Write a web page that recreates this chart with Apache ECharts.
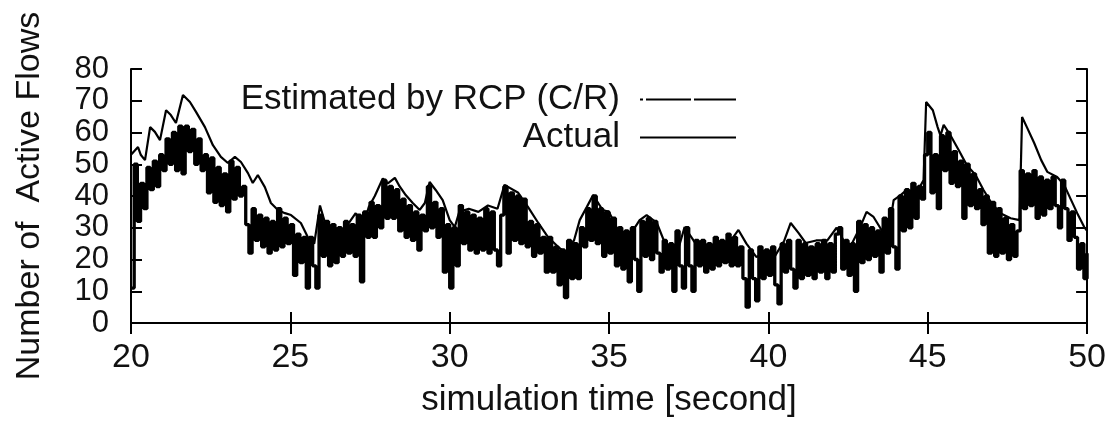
<!DOCTYPE html>
<html>
<head>
<meta charset="utf-8">
<script src="https://cdn.jsdelivr.net/npm/echarts@6/dist/echarts.min.js"></script>
<style>
html,body{margin:0;padding:0;background:#fff;}
#chart{width:1109px;height:430px;}
</style>
</head>
<body>
<div id="chart"></div>
<script>
// ---- data ----
const xTicks = [20, 25, 30, 35, 40, 45, 50];
const yTicks = [0, 10, 20, 30, 40, 50, 60, 70, 80];
const seriesNames = ['Estimated by RCP (C/R)', 'Actual'];

// Estimated by RCP (C/R): time [s]
const estTime = [20.0, 20.06, 20.22, 20.31, 20.44, 20.6, 20.75, 20.91, 21.1, 21.25,
  21.41, 21.63, 21.85, 22.04, 22.32, 22.57, 22.82, 23.04, 23.26, 23.45,
  23.67, 23.82, 23.98, 24.2, 24.39, 24.61, 24.83, 25.02, 25.33, 25.55,
  25.75, 25.93, 26.09, 26.2, 26.4, 26.6, 26.8, 27.05, 27.27, 27.46,
  27.65, 27.9, 28.06, 28.28, 28.43, 28.62, 28.84, 29.06, 29.22, 29.37,
  29.56, 29.78, 30.0, 30.16, 30.3, 30.6, 30.9, 31.2, 31.5, 31.72,
  32.15, 32.46, 32.78, 33.09, 33.4, 33.65, 33.9, 34.08, 34.3, 34.5,
  34.8, 35.0, 35.23, 35.55, 35.96, 36.18, 36.5, 36.8, 37.1, 37.37,
  37.65, 37.96, 38.27, 38.68, 39.06, 39.31, 39.62, 39.93, 40.2, 40.5,
  40.7, 40.95, 41.17, 41.5, 41.85, 42.14, 42.36, 42.6, 42.88, 43.08,
  43.3, 43.55, 43.77, 43.93, 44.15, 44.34, 44.65, 44.87, 44.95, 45.16,
  45.31, 45.4, 45.5, 45.72, 45.97, 46.22, 46.5, 46.75, 47.0, 47.28,
  47.6, 47.88, 47.96, 48.11, 48.34, 48.56, 48.75, 49.06, 49.28, 49.5,
  49.69, 49.91, 50.0];
// Estimated by RCP (C/R): number of flows
const estValue = [53, 53, 55.4, 52.9, 51.3, 61.7, 60.2, 57.6, 67, 65.5,
  63, 71.8, 69.6, 66.5, 61.7, 56, 52.3, 50.4, 52.3, 50.7,
  47.2, 44.1, 46.6, 42.8, 37.8, 35.6, 34.6, 34, 31.5, 27,
  25, 37, 31.5, 27, 30, 29, 31, 34.6, 30, 36.5,
  40, 45.5, 44, 45.7, 43, 40.3, 37.8, 35.6, 37.8, 44.4,
  41.9, 38.7, 32.4, 30.2, 35, 36, 35, 37, 36, 43.5,
  41, 36.5, 31.5, 27, 24, 22, 26, 32.4, 36.5, 40.3,
  35.6, 35, 30.2, 26, 32.4, 34, 31.5, 24, 20.8, 30.2,
  26, 22, 24, 24, 29.3, 25, 20.8, 22, 21, 26,
  31.5, 28.3, 25.2, 26, 26, 30, 26, 24.6, 30.2, 35,
  33.4, 29.3, 28.3, 38.7, 40.3, 41.9, 41, 45, 69.6, 67,
  61.7, 59, 62.4, 59, 54.5, 49.8, 46.6, 41.9, 37.8, 34.6,
  33, 32.4, 64.9, 61.7, 56.7, 51.3, 47.6, 46, 43.5, 38.7,
  34.6, 30.2, 29];

// Actual: sampled every 0.1 s from 20.0 s
const actualStart = 20;
const actualStep = 0.1;
const actualValue = [
  11, 50, 32, 44, 36, 49, 42, 51, 43, 53,
  48, 58, 50, 60, 48, 62, 47, 62, 54, 61,
  50, 58, 48, 53, 41, 52, 38, 49, 37, 47,
  35, 51, 39, 49, 40, 43, 31, 22, 36, 26,
  34, 24, 33, 22, 32, 23, 36, 24, 33, 25,
  31, 15, 28, 19, 27, 11, 27, 18, 11, 34,
  21, 32, 18, 31, 19, 30, 21, 32, 22, 31,
  21, 34, 13, 35, 27, 38, 27, 37, 30, 45,
  33, 43, 33, 42, 29, 39, 27, 37, 26, 35,
  23, 34, 29, 43, 30, 38, 27, 36, 16, 31,
  11, 30, 18, 37, 25, 35, 23, 34, 22, 33,
  23, 36, 22, 35, 23, 18, 34, 43, 22, 41,
  26, 40, 25, 39, 24, 32, 21, 31, 22, 27,
  16, 27, 16, 24, 12, 23, 8, 26, 14, 25,
  14, 30, 24, 36, 26, 40, 25, 36, 21, 35,
  22, 33, 18, 30, 17, 29, 13, 30, 20, 10,
  32, 21, 33, 20, 32, 22, 16, 26, 17, 25,
  10, 29, 18, 11, 30, 18, 10, 26, 18, 26,
  16, 25, 17, 27, 18, 26, 19, 28, 18, 27,
  18, 24, 14, 5, 23, 14, 7, 24, 14, 23,
  15, 24, 12, 6, 25, 16, 26, 17, 11, 26,
  14, 25, 15, 24, 14, 25, 16, 26, 14, 25,
  16, 28, 30, 17, 26, 15, 25, 10, 32, 19,
  31, 20, 30, 21, 29, 16, 33, 22, 36, 24,
  17, 40, 29, 42, 30, 44, 33, 43, 39, 53,
  60, 41, 53, 36, 59, 48, 60, 44, 54, 43,
  51, 33, 50, 37, 47, 36, 42, 31, 40, 22,
  38, 21, 36, 22, 33, 20, 31, 21, 29, 48,
  36, 47, 37, 48, 33, 46, 34, 45, 36, 46,
  37, 30, 45, 36, 26, 35, 27, 17, 25, 14,
  22];

// ---- build chart ----
const estData = estTime.map((t, i) => [t, estValue[i]]);
const actualData = actualValue.map((v, i) => [+(actualStart + i * actualStep).toFixed(2), v]);

const FONT = 'Liberation Sans';
const INK = '#111';
const frame = { show: true, lineStyle: { color: '#000', width: 2 } };
const tick = { show: true, inside: true, length: 11, lineStyle: { color: '#000', width: 2 } };

const xBase = { type: 'value', min: xTicks[0], max: xTicks[xTicks.length - 1], interval: xTicks[1] - xTicks[0],
  axisLine: frame, axisTick: tick, splitLine: { show: false } };
const yBase = { type: 'value', min: yTicks[0], max: yTicks[yTicks.length - 1], interval: yTicks[1] - yTicks[0],
  axisLine: frame, axisTick: tick, splitLine: { show: false } };

const hiddenSymbol = { opacity: 0, color: 'rgba(0,0,0,0)', borderWidth: 0 };

const chart = echarts.init(document.getElementById('chart'), null, { renderer: 'canvas' });
chart.setOption({
  animation: false,
  backgroundColor: '#fff',
  textStyle: { fontFamily: FONT, color: INK },
  grid: { left: 131, right: 21, top: 69, bottom: 107, containLabel: false },
  xAxis: [
    Object.assign({}, xBase, {
      position: 'bottom',
      axisLabel: { show: true, fontSize: 34, color: INK, fontFamily: FONT, margin: 18,
        showMinLabel: true, showMaxLabel: true, hideOverlap: false },
      name: 'simulation time [second]', nameLocation: 'middle', nameGap: 60,
      nameTextStyle: { fontSize: 35, color: INK, fontFamily: FONT }
    }),
    Object.assign({}, xBase, { position: 'top', axisLabel: { show: false } })
  ],
  yAxis: [
    Object.assign({}, yBase, {
      position: 'left',
      axisLabel: { show: true, fontSize: 31, lineHeight: 28, color: INK, fontFamily: FONT, margin: 22,
        showMinLabel: true, showMaxLabel: true, hideOverlap: false },
      name: 'Number of  Active Flows', nameLocation: 'middle', nameGap: 84, nameRotate: 90,
      nameTextStyle: { fontSize: 34, color: INK, fontFamily: FONT }
    }),
    Object.assign({}, yBase, { position: 'right', axisLabel: { show: false } })
  ],
  legend: [
    {
      data: [{ name: seriesNames[0], itemStyle: hiddenSymbol,
        lineStyle: { type: [45, 3], dashOffset: 42, width: 2, color: '#000' } }],
      right: 367, top: 77, orient: 'vertical', align: 'right',
      itemWidth: 96, itemHeight: 10, selectedMode: false,
      textStyle: { fontSize: 35, color: INK, fontFamily: FONT, padding: [0, 15, 0, 0] }
    },
    {
      data: [{ name: seriesNames[1], itemStyle: hiddenSymbol, lineStyle: { width: 2, color: '#000' } }],
      right: 367, top: 115, orient: 'vertical', align: 'right',
      itemWidth: 96, itemHeight: 10, selectedMode: false,
      textStyle: { fontSize: 35, color: INK, fontFamily: FONT, padding: [0, 15, 0, 0] }
    }
  ],
  series: [
    {
      name: seriesNames[0], type: 'line', data: estData, symbol: 'none',
      lineStyle: { color: '#000', width: 2.2 }, itemStyle: { color: '#000' }, z: 2
    },
    {
      name: seriesNames[1], type: 'line', data: actualData, symbol: 'none', step: 'end',
      lineStyle: { color: '#000', width: 3.3 }, itemStyle: { color: '#000' }, z: 3
    }
  ]
});
</script>
</body>
</html>
